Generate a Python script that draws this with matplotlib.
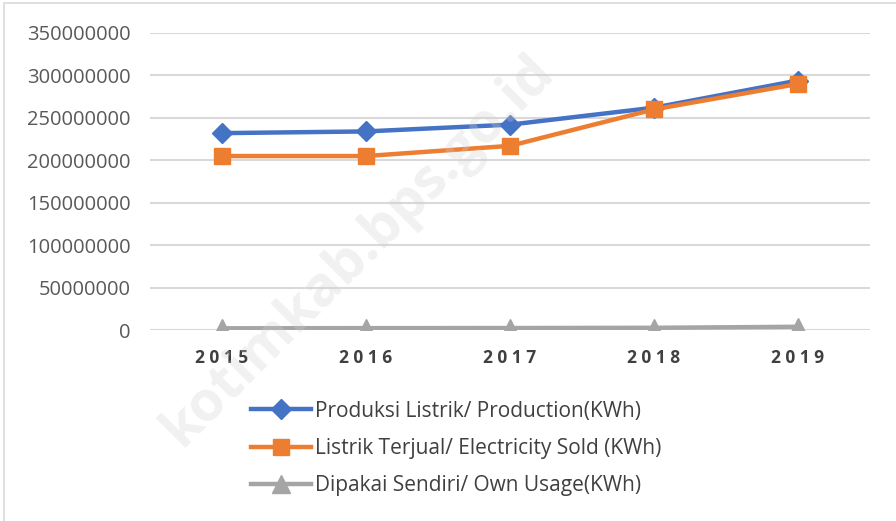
import matplotlib
matplotlib.use('Agg')

import matplotlib.pyplot as plt
from matplotlib.patches import Rectangle

years = ['2015', '2016', '2017', '2018', '2019']
production = [232000000, 234000000, 242000000, 262000000, 294000000]
sold = [205000000, 205000000, 217000000, 260000000, 290000000]
own_usage = [2000000, 2200000, 2300000, 2600000, 3800000]

labels = ['Produksi Listrik/ Production(KWh)',
          'Listrik Terjual/ Electricity Sold (KWh)',
          'Dipakai Sendiri/ Own Usage(KWh)']

plt.rcParams['font.family'] = ['Open Sans', 'DejaVu Sans']

fig = plt.figure(figsize=(8.96, 5.21), dpi=100)
ax = fig.add_axes([150 / 896, 1 - 330 / 521, 720 / 896, 297 / 521])

x = range(len(years))
ax.plot(x, production, color='#4472c4', linewidth=3.2, marker='D',
        markersize=10, label=labels[0], zorder=3)
ax.plot(x, sold, color='#ed7d31', linewidth=3.2, marker='s',
        markersize=12, label=labels[1], zorder=4)
ax.plot(x, own_usage, color='#a5a5a5', linewidth=3.2, marker='^',
        markersize=13, label=labels[2], zorder=3)

ax.set_xlim(-0.5, 4.5)
ax.set_ylim(0, 350000000)
ax.set_yticks(range(0, 350000001, 50000000))
ax.set_yticklabels([str(v) for v in range(0, 350000001, 50000000)],
                   fontsize=14.5, color='#595959')
ax.set_xticks(list(x))
ax.set_xticklabels([' '.join(y) for y in years],
                   fontsize=12.5, fontweight='bold', color='#404040')
ax.tick_params(axis='both', length=0)
ax.tick_params(axis='y', pad=14)
ax.tick_params(axis='x', pad=14)
ax.grid(True, axis='y', color='#d9d9d9', linewidth=1.5)
ax.set_axisbelow(True)
for s in ax.spines.values():
    s.set_visible(False)

leg = fig.legend(loc='upper left', bbox_to_anchor=(232 / 896, 1 - 382 / 521),
                 frameon=False, fontsize=15, handlelength=2.9,
                 handletextpad=0.2, labelspacing=0.78, labelcolor='#404040')

# watermark
fig.text(0.40, 0.52, 'kotimkab.bps.go.id', rotation=45, fontsize=40,
         fontweight='bold', color='#d0d0d0', alpha=0.3,
         ha='center', va='center', zorder=0)

fig.patches.append(Rectangle((4 / 896, -0.01), 1.0, 1 - 3 / 521 + 0.01,
                             transform=fig.transFigure, fill=False,
                             edgecolor='#d9d9d9', linewidth=1.2))

fig.savefig('out.png', dpi=100)
